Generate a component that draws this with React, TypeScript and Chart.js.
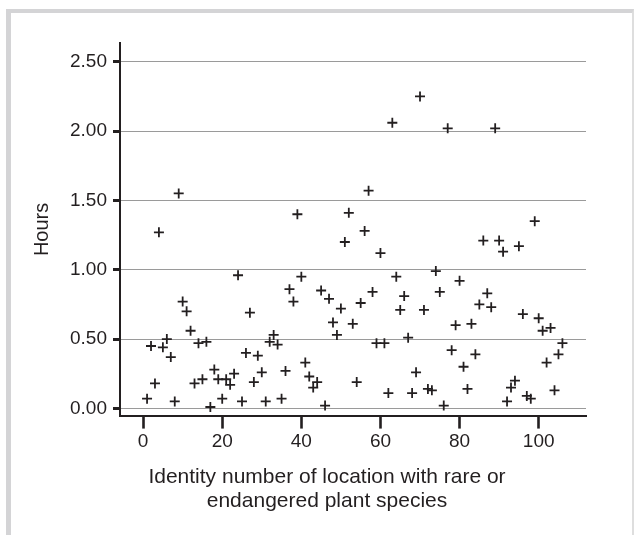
import { useEffect, useRef } from "react";
import { Chart, registerables } from "chart.js";

Chart.register(...registerables);

const LOCATION_IDS = [
  1, 2, 3, 4, 5, 6, 7, 8, 9, 10, 11, 12, 13, 14, 15, 16, 17, 18, 19, 20,
  21, 22, 23, 24, 25, 26, 27, 28, 29, 30, 31, 32, 33, 34, 35, 36, 37, 38, 39, 40,
  41, 42, 43, 44, 45, 46, 47, 48, 49, 50, 51, 52, 53, 54, 55, 56, 57, 58, 59, 60,
  61, 62, 63, 64, 65, 66, 67, 68, 69, 70, 71, 72, 73, 74, 75, 76, 77, 78, 79, 80,
  81, 82, 83, 84, 85, 86, 87, 88, 89, 90, 91, 92, 93, 94, 95, 96, 97, 98, 99, 100,
  101, 102, 103, 104, 105, 106,
];

const HOURS = [
  0.07, 0.45, 0.18, 1.27, 0.44, 0.5, 0.37, 0.05, 1.55, 0.77,
  0.7, 0.56, 0.18, 0.47, 0.21, 0.48, 0.01, 0.28, 0.21, 0.07,
  0.21, 0.17, 0.25, 0.96, 0.05, 0.4, 0.69, 0.19, 0.38, 0.26,
  0.05, 0.48, 0.53, 0.46, 0.07, 0.27, 0.86, 0.77, 1.4, 0.95,
  0.33, 0.23, 0.15, 0.19, 0.85, 0.02, 0.79, 0.62, 0.53, 0.72,
  1.2, 1.41, 0.61, 0.19, 0.76, 1.28, 1.57, 0.84, 0.47, 1.12,
  0.47, 0.11, 2.06, 0.95, 0.71, 0.81, 0.51, 0.11, 0.26, 2.25,
  0.71, 0.14, 0.13, 0.99, 0.84, 0.02, 2.02, 0.42, 0.6, 0.92,
  0.3, 0.14, 0.61, 0.39, 0.75, 1.21, 0.83, 0.73, 2.02, 1.21,
  1.13, 0.05, 0.15, 0.2, 1.17, 0.68, 0.09, 0.07, 1.35, 0.65,
  0.56, 0.33, 0.58, 0.13, 0.39, 0.47,
];

const X_TICKS = [0, 20, 40, 60, 80, 100];
const Y_TICKS = [0, 0.5, 1, 1.5, 2, 2.5];
const X_TITLE = ["Identity number of location with rare or", "endangered plant species"];
const Y_TITLE = "Hours";

export default function App() {
  const ref = useRef<HTMLCanvasElement>(null);

  useEffect(() => {
    const ink = "#231f20";
    const family = "'Liberation Sans', Arial, Helvetica, sans-serif";
    const chart = new Chart(ref.current as HTMLCanvasElement, {
      type: "scatter",
      data: {
        datasets: [
          {
            data: LOCATION_IDS.map((id, i) => ({ x: id, y: HOURS[i] })),
            pointStyle: "cross",
            pointRadius: 5,
            pointHoverRadius: 5,
            pointBorderWidth: 1.8,
            borderColor: ink,
            backgroundColor: ink,
          },
        ],
      },
      options: {
        animation: false,
        responsive: false,
        devicePixelRatio: 1,
        events: [],
        layout: { padding: { left: 68, right: 49, top: 43.3, bottom: 21.2 } },
        plugins: {
          legend: { display: false },
          tooltip: { enabled: false },
          title: {
            display: true,
            position: "bottom",
            text: X_TITLE,
            color: ink,
            font: { family, size: 21, weight: "normal", lineHeight: 1.16 },
            padding: 0,
          },
        },
        scales: {
          x: {
            type: "linear",
            min: -5.84,
            max: 111.96,
            afterBuildTicks: (s: any) => {
              s.ticks = X_TICKS.map((v) => ({ value: v }));
            },
            afterFit: (s: any) => {
              s.height = 49.5;
            },
            grid: {
              drawOnChartArea: false,
              drawTicks: true,
              tickLength: 13,
              tickWidth: 2.6,
              tickColor: ink,
            },
            border: { display: true, color: ink, width: 2 },
            ticks: {
              color: ink,
              font: { family, size: 19 },
              padding: 2,
              maxRotation: 0,
              autoSkip: false,
              callback: (v: any) => String(v),
            },
          },
          y: {
            type: "linear",
            min: -0.052,
            max: 2.633,
            afterBuildTicks: (s: any) => {
              s.ticks = Y_TICKS.map((v) => ({ value: v }));
            },
            afterFit: (s: any) => {
              s.width = 52;
            },
            grid: {
              color: "#9a9a9a",
              lineWidth: 1,
              drawTicks: true,
              tickLength: 7,
              tickWidth: 3,
              tickColor: ink,
            },
            border: { display: true, color: ink, width: 2 },
            ticks: {
              color: ink,
              font: { family, size: 19 },
              padding: 6,
              autoSkip: false,
              callback: (v: any) => Number(v).toFixed(2),
            },
            title: {
              display: true,
              text: Y_TITLE,
              color: ink,
              font: { family, size: 20, weight: "normal" },
              padding: { top: -37.5, bottom: 0 },
            },
          },
        },
      },
    });
    return () => chart.destroy();
  }, []);

  return (
    <div
      style={{
        position: "absolute",
        left: 0,
        top: 0,
        width: 635,
        height: 535,
        overflow: "hidden",
        background: "#ffffff",
      }}
    >
      <div
        style={{
          position: "absolute",
          left: 6,
          top: 9,
          width: 628,
          height: 600,
          boxSizing: "border-box",
          borderTop: "4px solid #d4d4d6",
          borderLeft: "5px solid #d4d4d6",
          borderRight: "2px solid #dedede",
        }}
      />
      <canvas
        ref={ref}
        width={635}
        height={535}
        style={{ position: "absolute", left: 0, top: 0, width: 635, height: 535 }}
      />
    </div>
  );
}
